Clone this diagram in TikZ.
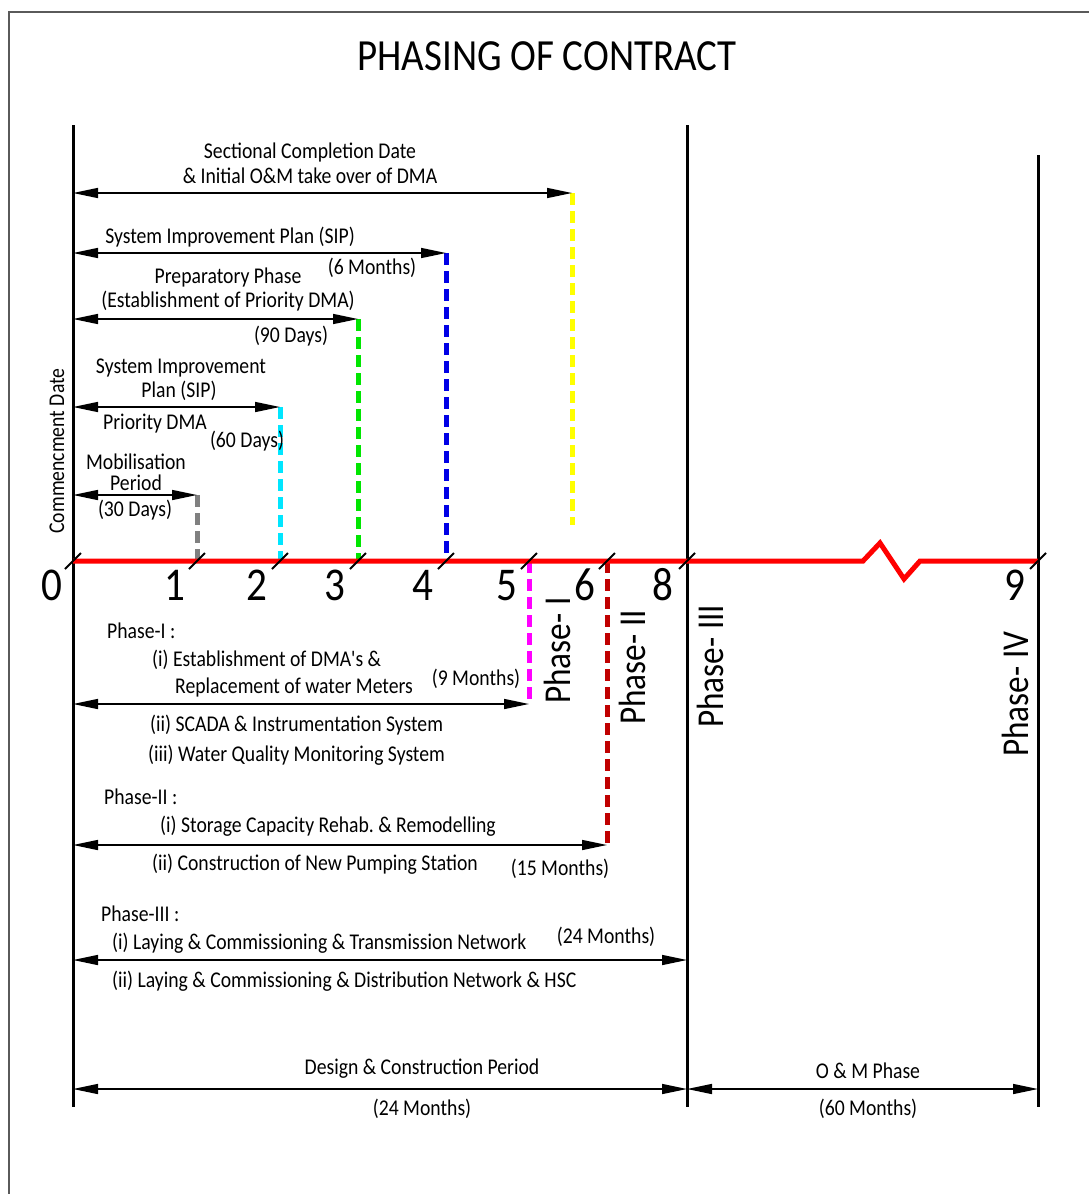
\documentclass[tikz,border=0pt]{standalone}
\usepackage{fontspec}
\setmainfont{Carlito}[FakeStretch=0.875, Ligatures=TeXOff]
\usetikzlibrary{arrows.meta}
\definecolor{mgray}{RGB}{128,128,128}
\definecolor{mcyan}{RGB}{0,230,255}
\definecolor{mgreen}{RGB}{0,230,0}
\definecolor{mblue}{RGB}{0,0,230}
\definecolor{myellow}{RGB}{255,255,0}
\definecolor{mmag}{RGB}{255,0,255}
\definecolor{mdred}{RGB}{192,0,0}
\definecolor{mred}{RGB}{255,0,0}
\definecolor{frm}{RGB}{90,90,90}
\frenchspacing
\begin{document}
\begin{tikzpicture}[x=1pt,y=-1pt,
  lbl/.style={font=\fontsize{22.5}{26}\selectfont, inner sep=0pt, anchor=base},
  lblw/.style={lbl, anchor=base west},
  num/.style={font=\fontsize{47}{50}\selectfont, inner sep=0pt, anchor=base},
  phl/.style={font=\fontsize{38}{42}\selectfont, inner sep=0pt, rotate=90, anchor=base west},
  dimarr/.style={line width=1.5pt, {Triangle[length=25pt,width=10pt]}-{Triangle[length=25pt,width=10pt]}},
  bar/.style={line width=3pt, black},
  cdash/.style={line width=5pt, dash pattern=on 12pt off 6pt},
  tk/.style={line width=2pt, black},
]
\useasboundingbox (0,0) rectangle (1089,1194);
\fill[white] (0,0) rectangle (1089,1194);
\draw[frm, line width=1.5pt] (9,1194) -- (9,12) -- (1089,12);

% title
\node[font=\fontsize{44.5}{50}\selectfont, inner sep=0pt, anchor=base] (title) at (547,70) {PHASING OF CONTRACT};

% main verticals
\coordinate (L0t) at (73,125);  \coordinate (L0b) at (73,1107);
\coordinate (L8t) at (687,125); \coordinate (L8b) at (687,1107);
\coordinate (L9t) at (1038,155); \coordinate (L9b) at (1038,1107);
\draw[bar] (L0t) -- (L0b);
\draw[bar] (L8t) -- (L8b);
\draw[bar] (L9t) -- (L9b);

% axis points
\coordinate (A0) at (73,561);
\coordinate (A1) at (197,561);
\coordinate (A2) at (280,561);
\coordinate (A3) at (358,561);
\coordinate (A4) at (446,561);
\coordinate (A5) at (529,561);
\coordinate (A6) at (607,561);
\coordinate (A8) at (687,561);
\coordinate (A9) at (1038,561);

% upper arrow end points
\coordinate (M1) at (197,495); \coordinate (S1) at (73,495);
\coordinate (M2) at (280,407); \coordinate (S2) at (73,407);
\coordinate (M3) at (358,319); \coordinate (S3) at (73,319);
\coordinate (M4) at (446,253); \coordinate (S4) at (73,253);
\coordinate (M5) at (572,193); \coordinate (S5) at (73,193);
\coordinate (Y5) at (572,525);
% lower
\coordinate (P1) at (529,704); \coordinate (Q1) at (73,704);
\coordinate (P2) at (607,845); \coordinate (Q2) at (73,845);
\coordinate (P3) at (687,960); \coordinate (Q3) at (73,960);
\coordinate (D0) at (73,1089); \coordinate (D8) at (687,1089); \coordinate (D9) at (1038,1089);

% coloured dashed verticals
\draw[cdash, mgray] (M1) -- (A1);
\draw[cdash, mcyan] (M2) -- (A2);
\draw[cdash, mgreen] (M3) -- (A3);
\draw[cdash, mblue] (M4) -- (A4);
\draw[cdash, myellow] (M5) -- (Y5);
\draw[cdash, mmag] (A5) -- (P1);
\draw[cdash, mdred] (A6) -- (P2);

% red axis with break
\draw[mred, line width=5pt, line join=miter] (A0) -- (863,561) -- (880,543) -- (904,579) -- (920,561) -- (A9);

% ticks
\foreach \p in {A0,A1,A2,A3,A4,A5,A6,A8,A9}
  \draw[tk, shift={(\p)}] (-8,8) -- (8,-8);

% axis numbers
\node[num] (n0) at (52,600) {0};
\node[num] (n1) at (175,600) {1};
\node[num] (n2) at (257,600) {2};
\node[num] (n3) at (335,600) {3};
\node[num] (n4) at (423,600) {4};
\node[num] (n5) at (507,600) {5};
\node[num] (n6) at (585,600) {6};
\node[num] (n8) at (663,600) {8};
\node[num] (n9) at (1015,600) {9};

% dimension arrows
\draw[dimarr] (S1) -- (M1);
\draw[dimarr] (S2) -- (M2);
\draw[dimarr] (S3) -- (M3);
\draw[dimarr] (S4) -- (M4);
\draw[dimarr] (S5) -- (M5);
\draw[dimarr] (Q1) -- (P1);
\draw[dimarr] (Q2) -- (P2);
\draw[dimarr] (Q3) -- (P3);
\draw[dimarr] (D0) -- (D8);
\draw[dimarr] (D8) -- (D9);

% upper labels
\node[lbl] (t1a) at (310,158) {Sectional Completion Date};
\node[lbl] (t1b) at (310,183) {\& Initial O\&M take over of DMA};
\node[lbl] (t2a) at (230,243) {System Improvement Plan (SIP)};
\node[lbl] (t2b) at (372,274) {(6 Months)};
\node[lbl] (t3a) at (228,283) {Preparatory Phase};
\node[lbl] (t3b) at (228,307) {(Establishment of Priority DMA)};
\node[lbl] (t3c) at (291,342) {(90 Days)};
\node[lbl] (t4a) at (181,373) {System Improvement};
\node[lbl] (t4b) at (179,397) {Plan (SIP)};
\node[lbl] (t4c) at (155,429) {Priority DMA};
\node[lbl] (t4d) at (247,447) {(60 Days)};
\node[lbl] (t5a) at (136,469) {Mobilisation};
\node[lbl] (t5b) at (136,490) {Period};
\node[lbl] (t5c) at (135,516) {(30 Days)};
\node[lbl, rotate=90] (cd) at (64,451) {Commencment Date};

% lower labels
\node[lblw] (p1a) at (107,638) {Phase-I :};
\node[lblw] (p1b) at (152,666) {(i) Establishment of DMA's \&};
\node[lblw] (p1c) at (175,693) {Replacement of water Meters};
\node[lbl] (p1d) at (476,685) {(9 Months)};
\node[lblw] (p1e) at (150,731) {(ii) SCADA \& Instrumentation System};
\node[lblw] (p1f) at (148,761) {(iii) Water Quality Monitoring System};
\node[lblw] (p2a) at (104,804) {Phase-II :};
\node[lblw] (p2b) at (160,832) {(i) Storage Capacity Rehab. \& Remodelling};
\node[lblw] (p2c) at (152,870) {(ii) Construction of New Pumping Station};
\node[lbl] (p2d) at (560,875) {(15 Months)};
\node[lblw] (p3a) at (101,921) {Phase-III :};
\node[lblw] (p3b) at (112,949) {(i) Laying \& Commissioning \& Transmission Network};
\node[lbl] (p3c) at (606,943) {(24 Months)};
\node[lblw] (p3d) at (112,987) {(ii) Laying \& Commissioning \& Distribution Network \& HSC};
\node[lbl] (dc1) at (422,1074) {Design \& Construction Period};
\node[lbl] (dc2) at (422,1115) {(24 Months)};
\node[lbl] (om1) at (868,1078) {O \& M Phase};
\node[lbl] (om2) at (868,1115) {(60 Months)};

% phase labels (rotated)
\node[phl] (ph1) at (570,704) {Phase- I};
\node[phl] (ph2) at (645,725) {Phase- II};
\node[phl] (ph3) at (723,728) {Phase- III};
\node[phl] (ph4) at (1028,757) {Phase- IV};
\end{tikzpicture}
\end{document}
